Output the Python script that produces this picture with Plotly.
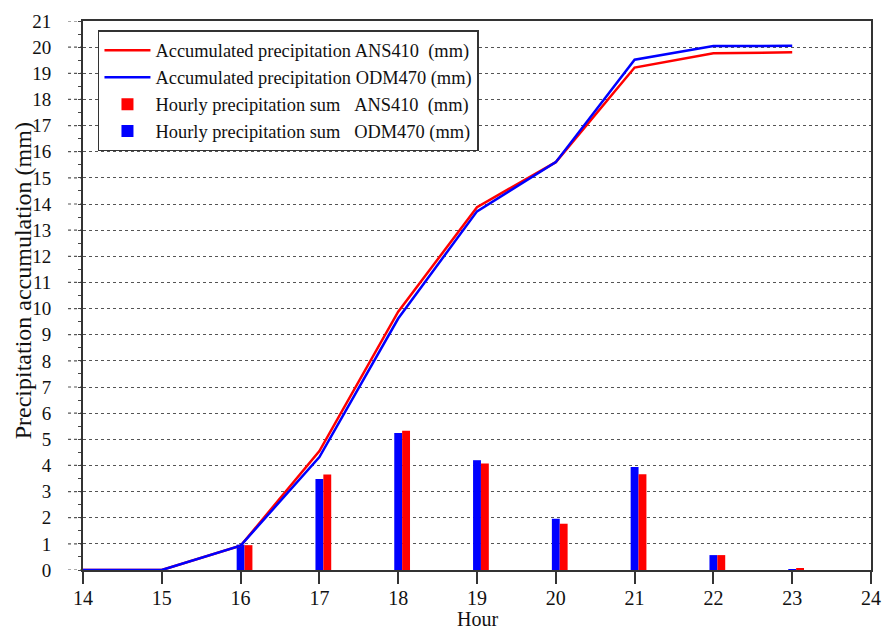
import plotly.graph_objects as go

hours = [14, 15, 16, 17, 18, 19, 20, 21, 22, 23]
acc_ans410 = [0, 0, 0.93, 4.55, 9.88, 13.88, 15.6, 19.22, 19.77, 19.8]
acc_odm470 = [0, 0, 0.93, 4.32, 9.62, 13.72, 15.6, 19.52, 20.04, 20.05]

bar_hours = [16, 17, 18, 19, 20, 21, 22, 23]
hourly_ans410 = [0.95, 3.65, 5.33, 4.07, 1.77, 3.66, 0.57, 0.05]
hourly_odm470 = [0.97, 3.48, 5.24, 4.2, 1.96, 3.94, 0.57, 0.02]

y_ticks = list(range(0, 22))
x_ticks = list(range(14, 25))

y_title = "Precipitation accumulation (mm)"
x_title = "Hour"

NB = "\u00a0"
names = [
    "Accumulated precipitation ANS410" + NB * 2 + "(mm)",
    "Accumulated precipitation ODM470" + NB + "(mm)",
    "Hourly precipitation sum" + NB * 3 + "ANS410" + NB * 2 + "(mm)",
    "Hourly precipitation sum" + NB * 3 + "ODM470" + NB + "(mm)",
]

fig = go.Figure()
fig.add_trace(go.Bar(x=bar_hours, y=hourly_odm470, width=0.1, offset=-0.05,
                     marker=dict(color="#0000ff", line=dict(width=0)),
                     name=names[3], legendrank=4))
fig.add_trace(go.Bar(x=bar_hours, y=hourly_ans410, width=0.1, offset=0.05,
                     marker=dict(color="#ff0000", line=dict(width=0)),
                     name=names[2], legendrank=3))
fig.add_trace(go.Scatter(x=hours, y=acc_ans410, mode="lines",
                         line=dict(color="#ff0000", width=2.5),
                         name=names[0], legendrank=1))
fig.add_trace(go.Scatter(x=hours, y=acc_odm470, mode="lines",
                         line=dict(color="#0000ff", width=2.5),
                         name=names[1], legendrank=2))

# dotted tick extensions to the left of the y axis
for v in y_ticks:
    fig.add_shape(type="line", xref="paper", yref="y", x0=-0.019, x1=0,
                  y0=v, y1=v, line=dict(color="#555555", width=1.2, dash="dot"),
                  layer="below")

FF = "Liberation Serif"
fig.add_annotation(text=y_title, xref="paper", yref="paper", x=-0.076, y=0.526,
                   xanchor="center", yanchor="middle", textangle=-90,
                   showarrow=False, font=dict(family=FF, size=24, color="#111111"))
fig.add_annotation(text=x_title, xref="paper", yref="paper", x=0.5, y=-0.089,
                   xanchor="center", yanchor="middle",
                   showarrow=False, font=dict(family=FF, size=20, color="#111111"))

fig.update_layout(
    width=892, height=634,
    margin=dict(l=83, r=11, t=17, b=64),
    paper_bgcolor="white", plot_bgcolor="white",
    barmode="overlay",
    font=dict(family=FF, size=18, color="#111111"),
    showlegend=True,
    legend=dict(x=0.019, y=0.983, xanchor="left", yanchor="top",
                bgcolor="white", bordercolor="#333333", borderwidth=1.5,
                font=dict(family=FF, size=18.4, color="#111111"),
                tracegroupgap=0, itemwidth=46, traceorder="normal"),
    xaxis=dict(range=[14, 24], tickvals=x_ticks, ticks="outside", ticklen=12,
               tickwidth=1.5, tickcolor="#333333", ticklabelstandoff=-3,
               tickfont=dict(family=FF, size=20, color="#111111"),
               showline=True, linecolor="#333333", linewidth=2, mirror=True,
               showgrid=False, zeroline=False),
    yaxis=dict(range=[0, 21], tickvals=y_ticks, ticks="outside", ticklen=18,
               tickcolor="rgba(0,0,0,0)", ticklabelstandoff=8,
               tickfont=dict(family=FF, size=19, color="#111111"),
               showline=True, linecolor="#333333", linewidth=2, mirror=True,
               showgrid=True, gridcolor="#555555", gridwidth=1.2, griddash="dot",
               zeroline=False,
               minor=dict(dtick=0.5, ticks="outside", ticklen=3, tickcolor="#444444",
                          showgrid=False)),
)

fig.write_html("out.html", config={"displayModeBar": False},
               post_script="document.body.style.margin='0px';document.body.style.overflow='hidden';")
